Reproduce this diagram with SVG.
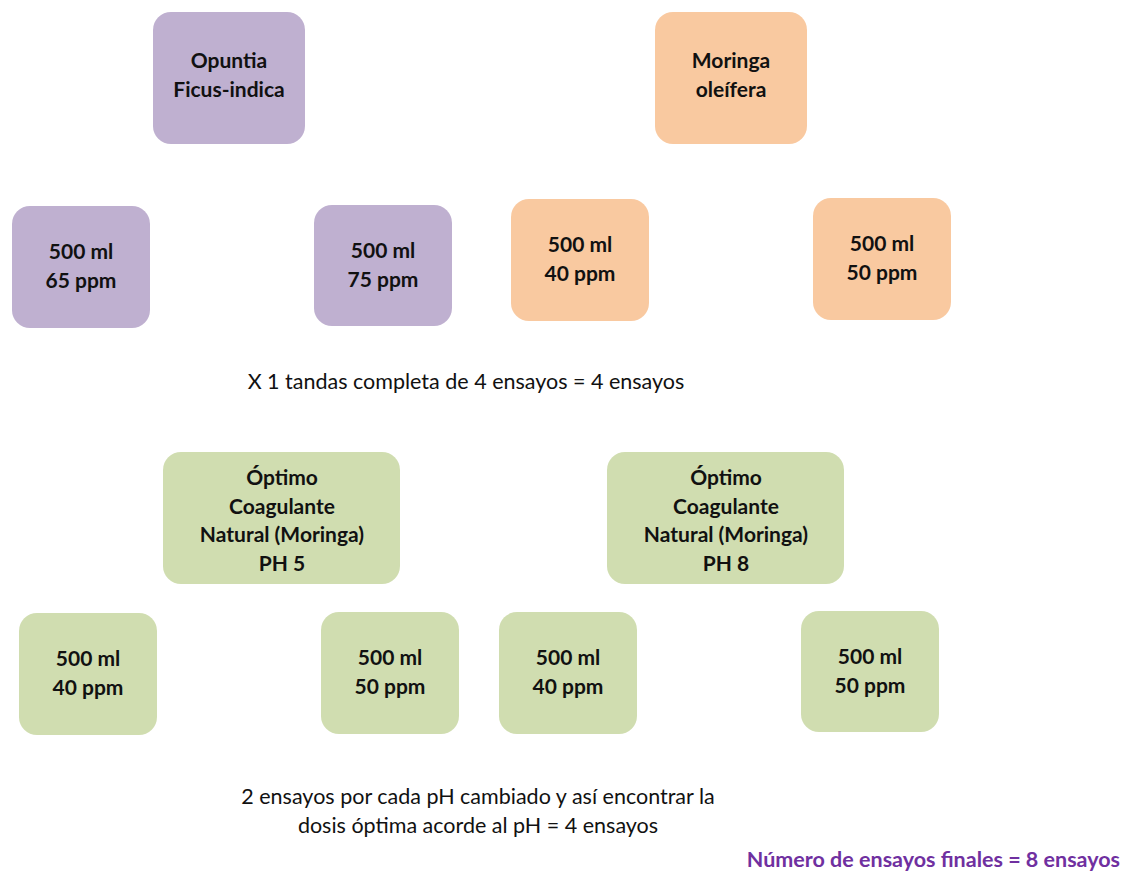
<svg xmlns="http://www.w3.org/2000/svg" width="1126" height="872" viewBox="0 0 1126 872">
<style>
.p{fill:#bfb0d0}
.o{fill:#f9c9a0}
.g{fill:#d0ddb0}
.t{font-family:Lato,"Open Sans",sans-serif;font-weight:bold;font-size:21px;fill:#111;text-anchor:middle}
.n{font-family:Lato,"Open Sans",sans-serif;font-size:21.5px;fill:#111;text-anchor:middle}
.f{font-family:Lato,"Open Sans",sans-serif;font-weight:bold;font-size:21.5px;fill:#7030a0;text-anchor:end}
</style>
<rect width="1126" height="872" fill="#fff"/>
<g id="opuntia"><rect class="p" x="153" y="12" width="152" height="132" rx="18"/><text class="t" x="229" y="68">Opuntia</text><text class="t" x="229" y="97">Ficus-indica</text></g>
<g id="moringa"><rect class="o" x="655" y="12" width="152" height="132" rx="18"/><text class="t" x="731" y="68">Moringa</text><text class="t" x="731" y="97">oleífera</text></g>
<g id="op65"><rect class="p" x="12" y="206" width="138" height="122" rx="18"/><text class="t" x="81" y="259">500 ml</text><text class="t" x="81" y="288">65 ppm</text></g>
<g id="op75"><rect class="p" x="314" y="205" width="138" height="121" rx="18"/><text class="t" x="383" y="258">500 ml</text><text class="t" x="383" y="287">75 ppm</text></g>
<g id="mo40"><rect class="o" x="511" y="199" width="138" height="122" rx="18"/><text class="t" x="580" y="252">500 ml</text><text class="t" x="580" y="281">40 ppm</text></g>
<g id="mo50"><rect class="o" x="813" y="198" width="138" height="122" rx="18"/><text class="t" x="882" y="251">500 ml</text><text class="t" x="882" y="280">50 ppm</text></g>
<text class="n" x="466" y="389">X 1 tandas completa de 4 ensayos = 4 ensayos</text>
<g id="ph5"><rect class="g" x="163" y="452" width="237" height="132" rx="18"/><text class="t" x="282" y="485">Óptimo</text><text class="t" x="282" y="514">Coagulante</text><text class="t" x="282" y="542">Natural (Moringa)</text><text class="t" x="282" y="571">PH 5</text></g>
<g id="ph8"><rect class="g" x="607" y="452" width="237" height="132" rx="18"/><text class="t" x="726" y="485">Óptimo</text><text class="t" x="726" y="514">Coagulante</text><text class="t" x="726" y="542">Natural (Moringa)</text><text class="t" x="726" y="571">PH 8</text></g>
<g id="g1"><rect class="g" x="19" y="613" width="138" height="122" rx="18"/><text class="t" x="88" y="666">500 ml</text><text class="t" x="88" y="695">40 ppm</text></g>
<g id="g2"><rect class="g" x="321" y="612" width="138" height="122" rx="18"/><text class="t" x="390" y="665">500 ml</text><text class="t" x="390" y="694">50 ppm</text></g>
<g id="g3"><rect class="g" x="499" y="612" width="138" height="122" rx="18"/><text class="t" x="568" y="665">500 ml</text><text class="t" x="568" y="694">40 ppm</text></g>
<g id="g4"><rect class="g" x="801" y="611" width="138" height="121" rx="18"/><text class="t" x="870" y="664">500 ml</text><text class="t" x="870" y="693">50 ppm</text></g>
<g id="connectors"></g>
<text class="n" x="478" y="804">2 ensayos por cada pH cambiado y así encontrar la</text>
<text class="n" x="478" y="833">dosis óptima acorde al pH = 4 ensayos</text>
<text class="f" x="1120" y="867">Número de ensayos finales = 8 ensayos</text>
</svg>
